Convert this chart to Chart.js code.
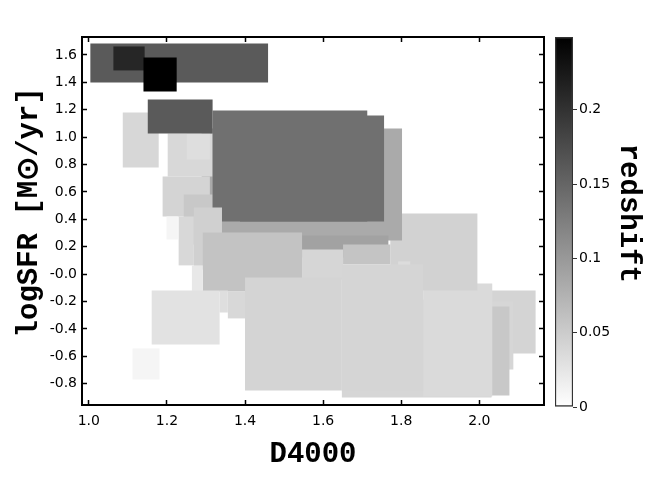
<!DOCTYPE html>
<html>
<head>
<meta charset="utf-8">
<script src="https://cdn.jsdelivr.net/npm/chart.js@4/dist/chart.umd.min.js"></script>
<style>
	html, body { margin: 0; padding: 0; background: #fff; }
	#wrap { position: relative; width: 663px; height: 489px; }
	.box { position: absolute; top: 0; height: 489px; }
</style>
</head>
<body>
<div id="wrap">
	<div class="box" style="left: 0; width: 663px;"><canvas id="main"></canvas></div>
	<div class="box" style="left: 545px; width: 118px;"><canvas id="cbar"></canvas></div>
</div>
<script>
// one entry per box, drawn in this order (the last one ends up on top)
const boxLeft = [1.648, 1.995, 1.964, 2.031, 1.856, 1.772, 1.792, 1.289, 1.541, 1.087, 1.202, 1.251, 1.189, 1.243, 1.317, 1.387, 1.23, 1.269, 1.292, 1.546, 1.651, 1.4, 1.648, 1.199, 1.264, 1.161, 1.335, 1.356, 1.112, 1.151, 1.004, 1.063, 1.14];
const boxRight = [2.031, 2.144, 2.087, 2.077, 2.033, 1.995, 1.823, 1.802, 1.767, 1.179, 1.317, 1.31, 1.31, 1.317, 1.713, 1.756, 1.269, 1.341, 1.546, 1.651, 1.772, 1.648, 1.856, 1.228, 1.292, 1.335, 1.356, 1.4, 1.181, 1.317, 1.459, 1.143, 1.225];
const boxBottom = [-0.9, -0.579, -0.696, -0.885, -0.893, -0.119, -0.017, 0.246, 0.122, 0.779, 0.713, 0.837, 0.421, 0.217, 0.385, 0.385, 0.064, 0.034, -0.126, -0.039, 0.071, -0.849, -0.856, 0.253, -0.126, -0.513, -0.28, -0.323, -0.769, 1.027, 1.399, 1.487, 1.334];
const boxTop = [-0.185, -0.119, -0.199, -0.236, -0.068, 0.443, 0.093, 1.064, 0.282, 1.18, 1.027, 1.027, 0.713, 0.582, 1.195, 1.158, 0.421, 0.487, 0.304, 0.18, 0.217, -0.024, 0.071, 0.421, 0.064, -0.119, -0.119, -0.126, -0.542, 1.275, 1.684, 1.662, 1.582];
const redshift = [0.04, 0.042, 0.04, 0.054, 0.036, 0.044, 0.034, 0.083, 0.091, 0.039, 0.038, 0.032, 0.042, 0.054, 0.14, 0.14, 0.038, 0.046, 0.059, 0.04, 0.058, 0.042, 0.041, 0.01, 0.022, 0.028, 0.032, 0.038, 0.01, 0.161, 0.161, 0.212, 0.249];

const xTicks = [1.0, 1.2, 1.4, 1.6, 1.8, 2.0];
const xTickLabels = ['1.0', '1.2', '1.4', '1.6', '1.8', '2.0'];
const yTicks = [-0.8, -0.6, -0.4, -0.2, 0, 0.2, 0.4, 0.6, 0.8, 1.0, 1.2, 1.4, 1.6];
const yTickLabels = ['-0.8', '-0.6', '-0.4', '-0.2', '-0.0', '0.2', '0.4', '0.6', '0.8', '1.0', '1.2', '1.4', '1.6'];
const zTicks = [0, 0.05, 0.1, 0.15, 0.2];
const zTickLabels = ['0', '0.05', '0.1', '0.15', '0.2'];
const zMax = 0.249;

const tickFont = { family: 'DejaVu Sans', size: 14 };
const titleFont = { family: 'Liberation Mono', size: 29, weight: 'bold' };

// white at z=0 going to black at zMax
function grayFor(z) {
	const g = Math.round(255 * (1 - Math.min(z, zMax) / zMax));
	return `rgb(${g}, ${g}, ${g})`;
}

function fixedTicks(values) {
	return function (scale) {
		scale.ticks = values.map((v) => ({ value: v }));
	};
}

let boxSets = [];
for (let i = 0; i < boxLeft.length; i++) {
	boxSets.push({
		data: [
			{ x: boxLeft[i], y: boxBottom[i] },
			{ x: boxRight[i], y: boxBottom[i] },
			{ x: boxRight[i], y: boxTop[i] },
			{ x: boxLeft[i], y: boxTop[i] },
		],
		fill: 'shape',
		backgroundColor: grayFor(redshift[i]),
		borderColor: 'transparent',
		borderWidth: 0,
		pointRadius: 0,
		tension: 0,
		order: boxLeft.length - i,
	});
}

const frameGrid = { drawOnChartArea: false, drawTicks: true, tickLength: -5, tickWidth: 1.5, tickColor: '#000' };
const frameBorder = { display: true, color: '#000', width: 2 };

new Chart(document.getElementById('main'), {
	type: 'line',
	data: { datasets: boxSets },
	options: {
		responsive: true,
		maintainAspectRatio: false,
		animation: false,
		events: [],
		layout: { padding: { top: 37, right: 119, left: 0, bottom: 0 } },
		plugins: { legend: { display: false }, tooltip: { enabled: false }, filler: { drawTime: 'beforeDatasetDraw' } },
		scales: {
			x: {
				type: 'linear',
				position: 'bottom',
				min: 0.9826,
				max: 2.1655,
				afterBuildTicks: fixedTicks(xTicks),
				afterFit: (s) => { s.height = 84; },
				border: frameBorder,
				grid: frameGrid,
				ticks: { padding: 13, color: '#000', font: tickFont, maxRotation: 0, callback: (v, i) => xTickLabels[i] },
				title: { display: true, text: 'D4000', color: '#000', font: titleFont, padding: { top: 0, bottom: 17 } },
			},
			xTop: {
				type: 'linear',
				position: 'top',
				min: 0.9826,
				max: 2.1655,
				afterBuildTicks: fixedTicks(xTicks),
				afterFit: (s) => { s.height = 0; },
				border: frameBorder,
				grid: frameGrid,
				ticks: { display: false },
			},
			y: {
				type: 'linear',
				position: 'left',
				min: -0.955,
				max: 1.731,
				afterBuildTicks: fixedTicks(yTicks),
				afterFit: (s) => { s.width = 82; },
				border: frameBorder,
				grid: frameGrid,
				ticks: { padding: 10, color: '#000', font: tickFont, callback: (v, i) => yTickLabels[i] },
				title: { display: true, text: ' logSFR [M\u2299/yr]', color: '#000', font: titleFont, padding: { top: 12, bottom: 0 } },
			},
			yRight: {
				type: 'linear',
				position: 'right',
				min: -0.955,
				max: 1.731,
				afterBuildTicks: fixedTicks(yTicks),
				afterFit: (s) => { s.width = 0; },
				border: frameBorder,
				grid: frameGrid,
				ticks: { display: false },
			},
		},
	},
});

// colorbar: a single bar from 0 to zMax filled with the same gray ramp
function colorbarFill(ctx) {
	const chart = ctx.chart;
	const y = chart.scales.y;
	if (!chart.chartArea || !y) {
		return '#888';
	}
	const y0 = y.getPixelForValue(0);
	const y1 = y.getPixelForValue(zMax);
	if (!isFinite(y0) || !isFinite(y1)) {
		return '#888';
	}
	const g = chart.ctx.createLinearGradient(0, y0, 0, y1);
	g.addColorStop(0, grayFor(0));
	g.addColorStop(1, grayFor(zMax));
	return g;
}

new Chart(document.getElementById('cbar'), {
	type: 'bar',
	data: {
		labels: ['z'],
		datasets: [
			{
				data: [zMax],
				backgroundColor: colorbarFill,
				borderColor: '#333',
				borderWidth: 1.5,
				borderSkipped: false,
				barPercentage: 1,
				categoryPercentage: 1,
			},
		],
	},
	options: {
		responsive: true,
		maintainAspectRatio: false,
		animation: false,
		events: [],
		layout: { padding: { top: 37, right: 0, left: 10, bottom: 82 } },
		plugins: { legend: { display: false }, tooltip: { enabled: false } },
		scales: {
			x: { display: false },
			y: {
				position: 'right',
				min: 0,
				max: zMax,
				afterBuildTicks: fixedTicks(zTicks),
				afterFit: (s) => { s.width = 90; },
				border: { display: false },
				grid: { drawOnChartArea: false, drawTicks: true, tickLength: 4, tickWidth: 1, tickColor: '#333' },
				ticks: { padding: 2, color: '#000', font: tickFont, callback: (v, i) => zTickLabels[i] },
				title: { display: true, text: 'redshift ', color: '#000', font: titleFont, padding: { top: 17, bottom: 0 } },
			},
		},
	},
});
</script>
</body>
</html>
